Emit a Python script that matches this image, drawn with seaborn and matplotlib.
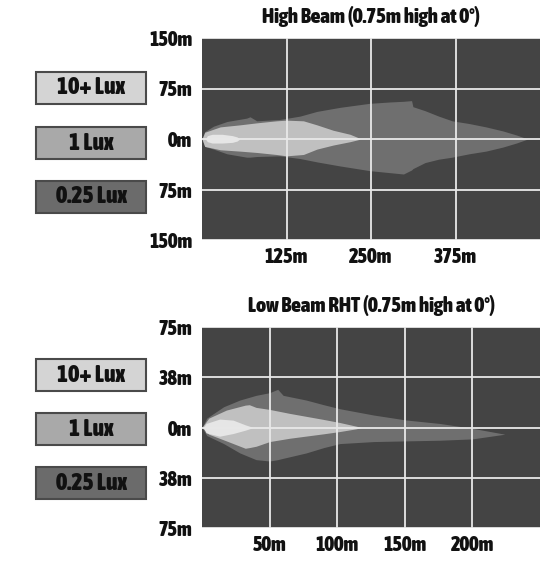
import matplotlib
matplotlib.use("Agg")
import matplotlib.pyplot as plt
from matplotlib import font_manager
from matplotlib.patches import Rectangle
import seaborn as sns

# %%
# beam contours: distance (m), upper and lower edge (m)
hb_far_x = [0, 4, 17, 37, 66, 71, 81, 115, 145, 170, 204, 248, 278, 298, 310, 312, 330, 350, 370, 395, 420, 445, 465, 482]
hb_far_top = [0, 11, 19, 26, 31, 33, 27, 29, 34, 41, 47, 53, 55, 56, 57, 48, 42, 34, 27, 23, 18, 12, 6, 0]
hb_far_bot = [0, -11, -15, -22, -27, -27, -26, -25, -29, -34, -40, -47, -50, -52, -46, -44, -35, -30, -27, -22, -18, -12, -6, 0]

hb_mid_x = [0, 4, 27, 56, 81, 110, 125, 150, 170, 194, 219, 231, 234]
hb_mid_top = [0, 10, 18, 21, 24, 27, 28, 27, 21, 13, 7, 2, 0]
hb_mid_bot = [0, -11, -16, -18, -20, -23, -25, -23, -15, -9, -4, -1, 0]

hb_near_x = [5, 8, 15, 30, 45, 52, 56]
hb_near_top = [0, 5, 7, 7, 5, 3, 0]
hb_near_bot = [0, -4, -6, -6, -5, -3, 0]

lb_far_x = [0, 3.5, 16, 28, 40, 50, 56, 60, 77, 90, 102, 127, 151, 176, 200, 224]
lb_far_top = [0, 7, 15.5, 20.5, 24, 26, 28.5, 24, 20.5, 17, 14, 9.3, 5.6, 3, -0.6, -5]
lb_far_bot = [0, -6, -12, -19, -24, -25, -24, -23, -19, -15, -12, -10.5, -10, -9.5, -8.5, -5]

lb_mid_x = [0, 5, 18, 32, 35, 40, 50, 65, 90, 102, 114, 118]
lb_mid_top = [0, 7, 13, 16.7, 17, 15, 13.5, 10.5, 6, 3.7, 1, 0]
lb_mid_bot = [0, -5, -10, -15.5, -15, -14, -10.5, -8, -4.7, -3, -1, 0]

lb_near_x = [1, 3, 13, 23, 32, 38]
lb_near_top = [0, 3, 6.3, 5.5, 2, 0]
lb_near_bot = [0, -4, -6.5, -4.5, -2, 0]

hb_xticks = [125, 250, 375]
hb_yticks = [150, 75, 0, -75, -150]
hb_ylabels = ["150m", "75m", "0m", "75m", "150m"]
lb_xticks = [50, 100, 150, 200]
lb_yticks = [75, 37.5, 0, -37.5, -75]
lb_ylabels = ["75m", "38m", "0m", "38m", "75m"]

legend_labels = ["10+ Lux", "1 Lux", "0.25 Lux"]
legend_colors = ["#d4d4d4", "#a9a9a9", "#6b6b6b"]
fill_colors = {"far": "#6f6f6f", "mid": "#c0c0c0", "near": "#e6e6e6"}

hb_title = "High Beam (0.75m high at 0°)"
lb_title = "Low Beam RHT (0.75m high at 0°)"

# %%
# look for an upright narrow bold face (not DejaVu if another exists)


def is_bold(f):
    w = f.weight
    if isinstance(w, str):
        return w in ("bold", "heavy", "extra bold", "black", "semibold", "demibold")
    return w >= 600


def is_narrow(f):
    return ("Narrow" in f.name or "Condensed" in f.name
            or str(f.stretch) in ("condensed", "semi-condensed", "extra-condensed"))


fonts = font_manager.fontManager.ttflist
picks = [f for f in fonts if is_narrow(f) and is_bold(f) and f.style == "normal"]
picks.sort(key=lambda f: (1 if "DejaVu" in f.name else 0, f.name))
if picks:
    font_spec = font_manager.FontProperties(fname=picks[0].fname)
else:
    font_spec = font_manager.FontProperties(family="Liberation Sans", weight="bold")


def fp(size):
    p = font_spec.copy()
    p.set_size(size)
    return p


sns.set_style("darkgrid", {"axes.facecolor": "#444444", "grid.color": "#e8e8e8",
                           "axes.edgecolor": "#444444"})

fig = plt.figure(figsize=(5.6, 5.64), dpi=100)
W, H = 560, 564
renderer = fig.canvas.get_renderer()


def fit_size(sample, width_px, cap):
    # font size that makes the sample as wide as in the picture
    t = fig.text(0, 0, sample, fontproperties=fp(10))
    w = t.get_window_extent(renderer).width
    t.remove()
    return min(10 * width_px / w, cap)


sizes = {"tick": fit_size("150m", 43, 15),
         "title": fit_size(hb_title, 239, 15),
         "legend": fit_size("10+ Lux", 77, 17)}


def beam_axes(top_px, bottom_px):
    return fig.add_axes([202 / W, 1 - bottom_px / H, 338 / W, (bottom_px - top_px) / H])


def draw_beam(ax, contours, xmax, ymax, xticks, yticks, ylabels, title):
    for key, (x, top, bot) in contours.items():
        ax.fill_between(x, bot, top, color=fill_colors[key], lw=0, zorder=1)
    ax.set_xlim(0, xmax)
    ax.set_ylim(-ymax, ymax)
    ax.set_xticks(xticks)
    ax.set_xticklabels([f"{t}m" for t in xticks], fontproperties=fp(sizes["tick"]))
    ax.set_yticks(yticks)
    ax.set_yticklabels(ylabels, fontproperties=fp(sizes["tick"]))
    ax.set_axisbelow(False)
    ax.grid(True, color="#e8e8e8", lw=1.3, zorder=3)
    ax.tick_params(axis="y", length=0, pad=7, colors="#111111")
    ax.tick_params(axis="x", length=0, pad=5, colors="#111111")
    for s in ax.spines.values():
        s.set_visible(False)
    ax.set_title(title, fontproperties=fp(sizes["title"]), color="#111111", pad=11)


def draw_legend(centers):
    for label, color, cy in zip(legend_labels, legend_colors, centers):
        rect = Rectangle((36 / W, 1 - (cy + 16) / H), 110 / W, 32 / H, transform=fig.transFigure,
                         facecolor=color, edgecolor="#4a4a4a", lw=1.5)
        fig.add_artist(rect)
        fig.text(91 / W, 1 - cy / H, label, ha="center", va="center",
                 fontproperties=fp(sizes["legend"]), color="#111111")


ax1 = beam_axes(38, 240)
draw_beam(ax1, {"far": (hb_far_x, hb_far_top, hb_far_bot),
                "mid": (hb_mid_x, hb_mid_top, hb_mid_bot),
                "near": (hb_near_x, hb_near_top, hb_near_bot)},
          500, 150, hb_xticks, hb_yticks, hb_ylabels, hb_title)

ax2 = beam_axes(327, 528)
draw_beam(ax2, {"far": (lb_far_x, lb_far_top, lb_far_bot),
                "mid": (lb_mid_x, lb_mid_top, lb_mid_bot),
                "near": (lb_near_x, lb_near_top, lb_near_bot)},
          250, 75, lb_xticks, lb_yticks, lb_ylabels, lb_title)

draw_legend([88, 143, 197])
draw_legend([375, 429, 483])

fig.savefig("out.png", dpi=100, facecolor="white")
